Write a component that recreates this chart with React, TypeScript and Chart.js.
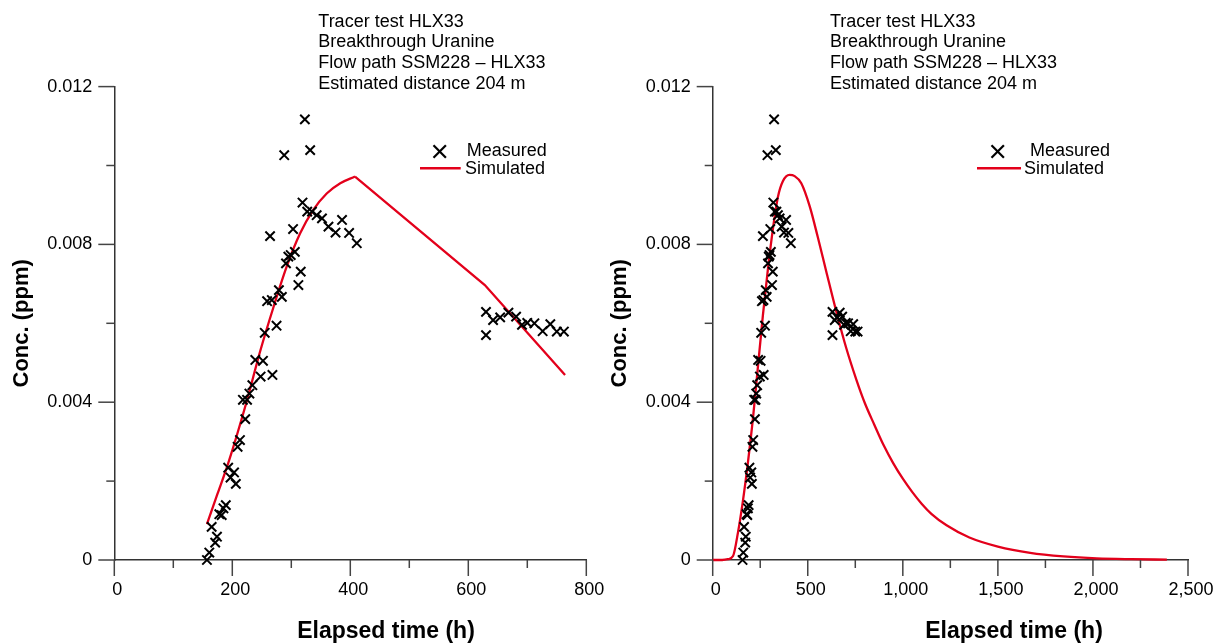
import React, { useEffect, useRef } from "react";
import { Chart, registerables } from "chart.js";

Chart.register(...registerables);

const FONT = '"Liberation Sans", Arial, Helvetica, sans-serif';

// ---- text ----
const titleLines = [
  "Tracer test HLX33",
  "Breakthrough Uranine",
  "Flow path SSM228 \u2013 HLX33",
  "Estimated distance 204 m",
];
const legendMeasured = "Measured";
const legendSimulated = "Simulated";
const xAxisTitle = "Elapsed time (h)";
const yAxisTitle = "Conc. (ppm)";

// ---- measured data (same in both panels) ----
const measuredTime = [
  157, 161, 165, 171, 174, 178, 182, 185, 189, 193, 197, 203, 206, 209, 213,
  222, 218, 225, 229, 234, 239, 248, 252, 255, 268, 259, 267, 275, 279, 284,
  264, 288, 291, 295, 299, 306, 303, 312, 316, 319, 323, 327, 332, 335, 343,
  352, 363, 375, 386, 398, 411,
  630, 630, 642, 654, 668, 681, 691, 700, 712, 726, 739, 750, 762,
];
const measuredConc = [
  0.0, 0.00019, 0.00084, 0.00044, 0.00059, 0.00116, 0.00114, 0.00131, 0.00139,
  0.00234, 0.00209, 0.00222, 0.00193, 0.00287, 0.00304,
  0.00357, 0.00406, 0.00406, 0.00422, 0.00443, 0.00507, 0.00465, 0.00505,
  0.00576, 0.00469, 0.00656, 0.00659, 0.00594, 0.00684, 0.00667,
  0.00821, 0.01026, 0.00752, 0.00769, 0.00773, 0.00781, 0.00839, 0.00697,
  0.00731, 0.00906, 0.01117, 0.00883, 0.01039, 0.00883, 0.00874,
  0.00866, 0.00845, 0.0083, 0.00862, 0.00829, 0.00803,
  0.00629, 0.0057, 0.00608, 0.00615, 0.00627, 0.00617, 0.00596, 0.00601,
  0.006, 0.0058, 0.00598, 0.00579, 0.00579,
];

// ---- simulated curve, left panel (smooth rise, then straight segments) ----
const simLeftRiseTime = [157, 175, 193, 224, 247, 270, 292, 315, 337, 360, 383, 408];
const simLeftRiseConc = [
  0.00091, 0.00168, 0.00245, 0.004, 0.00528, 0.00642, 0.00743, 0.00828, 0.00887,
  0.00929, 0.00955, 0.00972,
];
const simLeftTailTime = [408, 628, 764];
const simLeftTailConc = [0.00972, 0.00697, 0.00469];

// ---- simulated curve, right panel ----
const simRightTime = [
  0, 50, 80, 107, 133, 159, 186, 212, 238, 264, 291, 317, 343, 369, 404, 431,
  466, 510, 553, 597, 650, 702, 755, 800, 850, 900, 950, 1000, 1050, 1100,
  1150, 1230, 1350, 1500, 1670, 1845, 2020, 2200, 2389,
];
const simRightConc = [
  0, 0, 0.00002, 0.0001, 0.0007, 0.0015, 0.0025, 0.0036, 0.0049, 0.0062,
  0.0074, 0.0084, 0.0092, 0.0096, 0.00976, 0.00973, 0.00955, 0.00897, 0.00818,
  0.00732, 0.0063, 0.00538, 0.00458, 0.00398, 0.00343, 0.0029, 0.00245,
  0.00206, 0.00172, 0.00142, 0.00117, 0.00088, 0.00057, 0.00034, 0.00018,
  0.00009, 0.00004, 0.00002, 0.00001,
];

// ---- ticks ----
const leftXTicks = [0, 200, 400, 600, 800];
const leftXMinor = [100, 300, 500, 700];
const rightXTicks = [0, 500, 1000, 1500, 2000, 2500];
const rightXMinor = [250, 750, 1250, 1750, 2250];
const yTicks = [0, 0.004, 0.008, 0.012];
const yMinor = [0.002, 0.006, 0.01];

const RED = "#e3001b";

const decoPlugin = {
  id: "deco",
  afterDraw(chart: any, _args: any, o: any) {
    const { ctx } = chart;
    const xs = chart.scales.x;
    const ys = chart.scales.y;
    const area = chart.chartArea;
    ctx.save();
    // tick marks
    ctx.strokeStyle = "#444";
    ctx.lineWidth = 1.5;
    const seg = (x1: number, y1: number, x2: number, y2: number) => {
      ctx.beginPath();
      ctx.moveTo(x1, y1);
      ctx.lineTo(x2, y2);
      ctx.stroke();
    };
    o.xMajor.forEach((v: number) => {
      const p = xs.getPixelForValue(v);
      seg(p, area.bottom, p, area.bottom + 16);
    });
    o.xMinor.forEach((v: number) => {
      const p = xs.getPixelForValue(v);
      seg(p, area.bottom, p, area.bottom + 8);
    });
    o.yMajor.forEach((v: number) => {
      const p = ys.getPixelForValue(v);
      seg(area.left, p, area.left - 16, p);
    });
    o.yMinor.forEach((v: number) => {
      const p = ys.getPixelForValue(v);
      seg(area.left, p, area.left - 8, p);
    });

    // title block
    ctx.fillStyle = "#000";
    ctx.font = `18px ${FONT}`;
    ctx.textAlign = "left";
    ctx.textBaseline = "alphabetic";
    titleLines.forEach((t, i) => {
      ctx.fillText(t, o.titleX, o.titleY + i * o.titleStep);
    });

    // legend
    const L = o.legend;
    ctx.strokeStyle = "#000";
    ctx.lineWidth = 2.2;
    const h = 6.2;
    seg(L.crossX - h, L.crossY - h, L.crossX + h, L.crossY + h);
    seg(L.crossX - h, L.crossY + h, L.crossX + h, L.crossY - h);
    ctx.strokeStyle = RED;
    ctx.lineWidth = 2.4;
    seg(L.lineX1, L.lineY, L.lineX2, L.lineY);
    ctx.fillText(legendMeasured, L.measX, L.measY);
    ctx.fillText(legendSimulated, L.simX, L.simY);

    // x-axis title
    ctx.font = `bold 23px ${FONT}`;
    ctx.textAlign = "center";
    ctx.fillText(xAxisTitle, o.xTitleX, o.xTitleY);
    ctx.restore();
  },
};

type PanelParams = {
  xMax: number;
  xTicks: number[];
  xMinor: number[];
  yWidth: number;
  padRight: number;
  yTitlePad: number;
  xFormat: (v: number) => string;
  datasets: any[];
  deco: any;
};

function makeConfig(p: PanelParams): any {
  return {
    type: "scatter",
    data: { datasets: p.datasets },
    options: {
      responsive: false,
      animation: false,
      events: [],
      layout: { padding: { top: 86.6, right: p.padRight, left: 0, bottom: 0 } },
      plugins: {
        legend: { display: false },
        tooltip: { enabled: false },
        deco: p.deco,
      },
      scales: {
        x: {
          type: "linear",
          min: 0,
          max: p.xMax,
          afterBuildTicks: (s: any) => {
            s.ticks = p.xTicks.map((v) => ({ value: v }));
          },
          afterFit: (s: any) => {
            s.height = 84;
          },
          grid: { display: false, drawTicks: false },
          border: { display: true, color: "#333", width: 1.5 },
          ticks: {
            padding: 19,
            labelOffset: 3,
            color: "#000",
            maxRotation: 0,
            autoSkip: false,
            font: { size: 18, family: FONT },
            callback: (v: any) => p.xFormat(Number(v)),
          },
        },
        y: {
          type: "linear",
          min: 0,
          max: 0.012,
          afterBuildTicks: (s: any) => {
            s.ticks = yTicks.map((v) => ({ value: v }));
          },
          afterFit: (s: any) => {
            s.width = p.yWidth;
          },
          grid: { display: false, drawTicks: false },
          border: { display: true, color: "#333", width: 1.5 },
          ticks: {
            padding: 22,
            color: "#000",
            font: { size: 18, family: FONT },
            callback: (v: any) => (Number(v) === 0 ? "0" : Number(v).toFixed(3)),
          },
          title: {
            display: true,
            text: yAxisTitle,
            color: "#000",
            font: { size: 22, weight: "bold", family: FONT },
            padding: { top: p.yTitlePad, bottom: 0 },
          },
        },
      },
    },
    plugins: [decoPlugin],
  };
}

const measuredDataset = () => ({
  label: legendMeasured,
  data: measuredTime.map((t, i) => ({ x: t, y: measuredConc[i] })),
  pointStyle: "crossRot",
  pointRadius: 6.6,
  pointBorderWidth: 2,
  borderColor: "#000",
  backgroundColor: "#000",
  showLine: false,
  clip: false,
});

const lineDataset = (xs: number[], ys: number[], smooth: boolean) => ({
  label: legendSimulated,
  data: xs.map((t, i) => ({ x: t, y: ys[i] })),
  showLine: true,
  borderColor: RED,
  backgroundColor: RED,
  borderWidth: 2.3,
  pointRadius: 0,
  cubicInterpolationMode: smooth ? "monotone" : "default",
  tension: 0,
  clip: false,
});

function Panel({ left, width, config }: { left: number; width: number; config: any }) {
  const ref = useRef<HTMLCanvasElement | null>(null);
  useEffect(() => {
    if (!ref.current) return;
    const chart = new Chart(ref.current, config);
    return () => chart.destroy();
  }, []);
  return (
    <canvas
      ref={ref}
      width={width}
      height={644}
      style={{ position: "absolute", left, top: 0, width, height: 644 }}
    />
  );
}

export default function App() {
  const leftConfig = makeConfig({
    xMax: 800,
    xTicks: leftXTicks,
    xMinor: leftXMinor,
    yWidth: 114.3,
    padRight: 34.7,
    yTitlePad: 8.8,
    xFormat: (v) => String(v),
    datasets: [
      measuredDataset(),
      lineDataset(simLeftRiseTime, simLeftRiseConc, true),
      lineDataset(simLeftTailTime, simLeftTailConc, false),
    ],
    deco: {
      xMajor: leftXTicks,
      xMinor: leftXMinor,
      yMajor: yTicks,
      yMinor: yMinor,
      titleX: 318.3,
      titleY: 26.5,
      titleStep: 20.67,
      legend: {
        crossX: 439.7,
        crossY: 151.5,
        measX: 466.7,
        measY: 156,
        lineX1: 420,
        lineX2: 460.7,
        lineY: 168.3,
        simX: 465,
        simY: 174.3,
      },
      xTitleX: 386,
      xTitleY: 637.5,
    },
  });

  const rightConfig = makeConfig({
    xMax: 2500,
    xTicks: rightXTicks,
    xMinor: rightXMinor,
    yWidth: 132.7,
    padRight: 44,
    yTitlePad: 26.8,
    xFormat: (v) => v.toLocaleString("en-US"),
    datasets: [measuredDataset(), lineDataset(simRightTime, simRightConc, true)],
    deco: {
      xMajor: rightXTicks,
      xMinor: rightXMinor,
      yMajor: yTicks,
      yMinor: yMinor,
      titleX: 250,
      titleY: 26.5,
      titleStep: 20.67,
      legend: {
        crossX: 417.7,
        crossY: 151.5,
        measX: 450,
        measY: 156,
        lineX1: 397,
        lineX2: 441,
        lineY: 168.3,
        simX: 444,
        simY: 174.3,
      },
      xTitleX: 434,
      xTitleY: 637.5,
    },
  });

  return (
    <div
      style={{
        position: "absolute",
        left: 0,
        top: 0,
        width: 1228,
        height: 644,
        overflow: "hidden",
        background: "#fff",
      }}
    >
      <Panel left={0} width={621} config={leftConfig} />
      <Panel left={580} width={652} config={rightConfig} />
    </div>
  );
}
